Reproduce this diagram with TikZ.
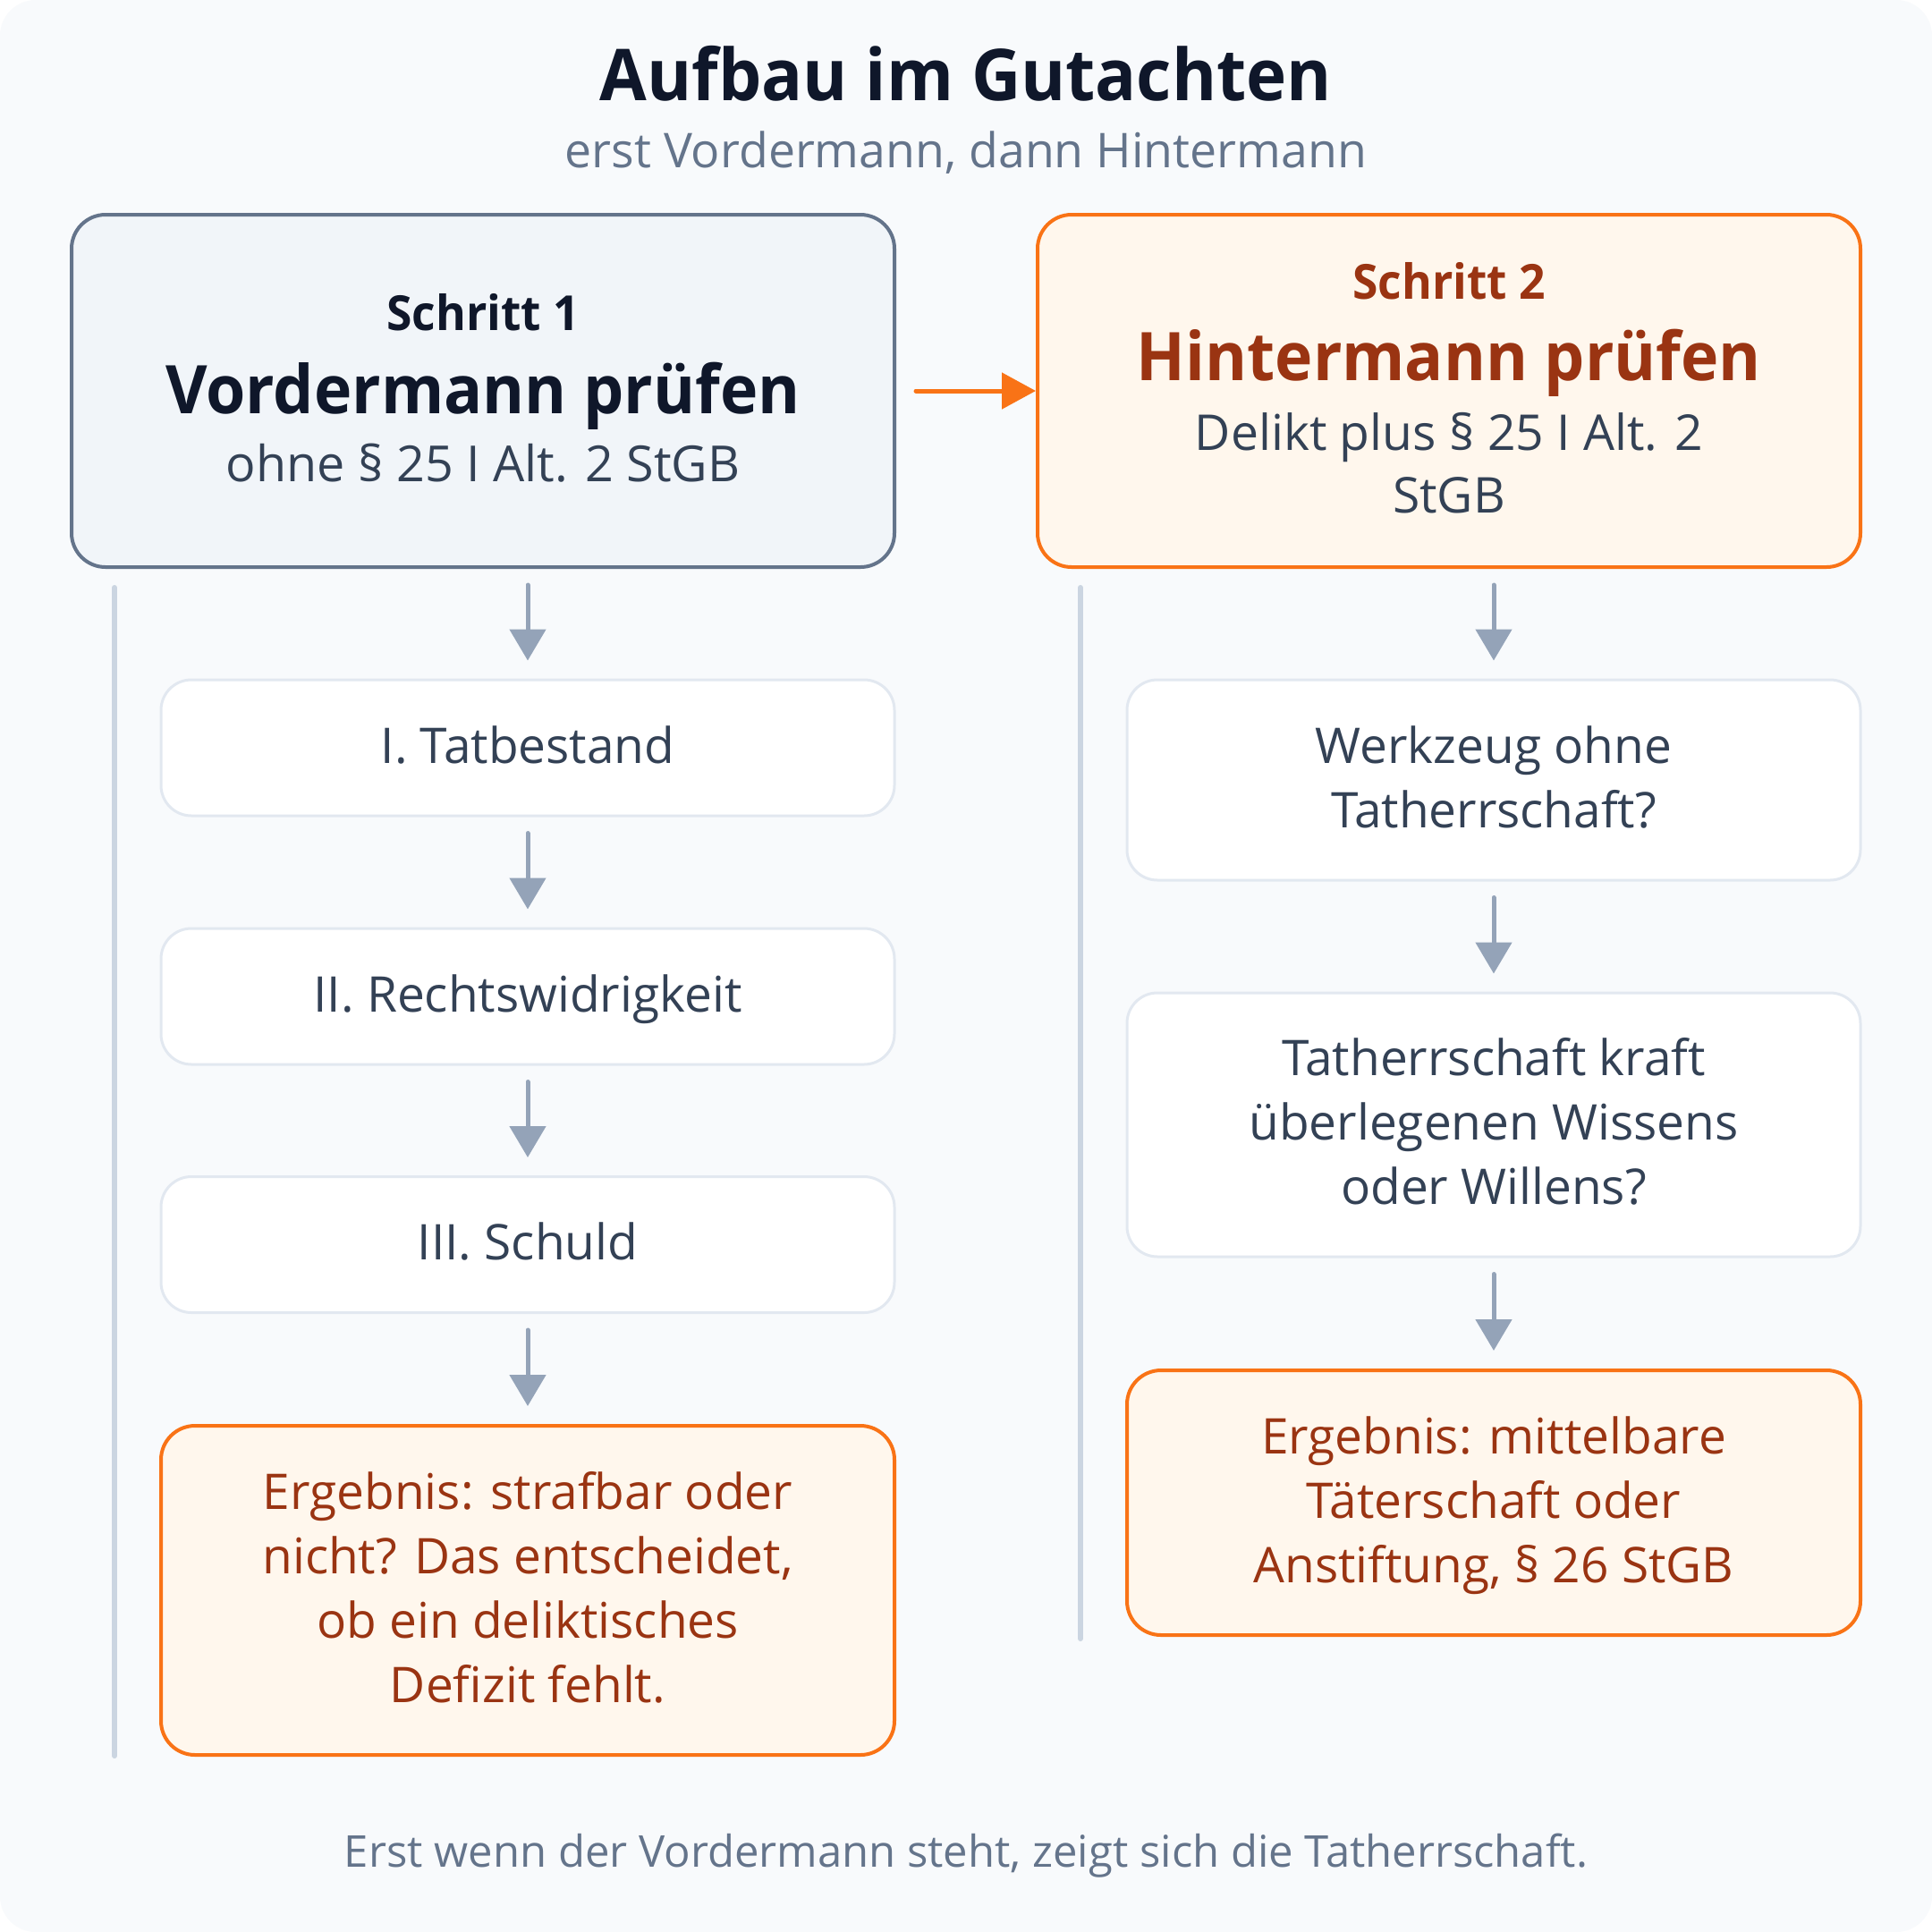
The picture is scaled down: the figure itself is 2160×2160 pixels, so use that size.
\documentclass[tikz,border=0pt]{standalone}
\usepackage{fontspec}
\setmainfont{Open Sans}[BoldFeatures={FakeStretch=0.955}]
\usetikzlibrary{arrows.meta,calc}
\definecolor{bgc}{HTML}{F8FAFC}
\definecolor{titlec}{HTML}{0F172A}
\definecolor{subc}{HTML}{64748B}
\definecolor{boxafill}{HTML}{F1F5F9}
\definecolor{orangec}{HTML}{F97316}
\definecolor{ofill}{HTML}{FFF7ED}
\definecolor{brownc}{HTML}{9A3412}
\definecolor{txtc}{HTML}{334155}
\definecolor{stepc}{HTML}{E2E8F0}
\definecolor{vlinec}{HTML}{CBD5E1}
\definecolor{arrc}{HTML}{94A3B8}
\newcommand\ls{\rule[-9.5pt]{0pt}{36pt}}
\begin{document}
\begin{tikzpicture}[x=0.5pt,y=-0.5pt,
  hdrA/.style={draw=subc, fill=boxafill, line width=2pt, rounded corners=19pt, minimum width=460pt, minimum height=197pt, inner sep=0pt},
  hdrB/.style={draw=orangec, fill=ofill, line width=2pt, rounded corners=19pt, minimum width=460pt, minimum height=197pt, inner sep=0pt},
  stepbox/.style={draw=stepc, fill=white, line width=1.5pt, rounded corners=17pt, minimum width=410pt, inner sep=0pt, align=center, text=txtc, font=\fontsize{27.5}{36}\selectfont},
  resbox/.style={draw=orangec, fill=ofill, line width=2pt, rounded corners=19pt, minimum width=410pt, inner sep=0pt, align=center, text=brownc, font=\fontsize{27.5}{36}\selectfont},
  hline/.style={anchor=base, inner sep=0pt},
  darrow/.style={draw=arrc, line width=2.5pt, line cap=round, -{Triangle[length=17.5pt, width=20pt]}},
  oarrow/.style={draw=orangec, line width=2.5pt, line cap=round, -{Triangle[length=19pt, width=20pt]}},
  vline/.style={draw=vlinec, line width=3pt, line cap=round}]
\path[use as bounding box] (0,0) rectangle (2160,2160);
\fill[white] (0,0) rectangle (2160,2160);
\fill[bgc, rounded corners=20pt] (0,0) rectangle (2160,2160);

\node[hline, font=\fontsize{40}{48}\selectfont\bfseries, text=titlec] (title) at (1080,112) {Aufbau im Gutachten};
\node[hline, font=\fontsize{26.8}{32}\selectfont, text=subc] (subtitle) at (1080,187) {erst Vordermann, dann Hintermann};

\node[hdrA] (b1) at (540,437) {};
\node[hline, font=\fontsize{27}{32}\selectfont\bfseries, text=titlec] (b1a) at ($(b1.center)+(0,-68)$) {Schritt 1};
\node[hline, font=\fontsize{37.5}{46}\selectfont\bfseries, text=titlec] (b1b) at ($(b1.center)+(0,25)$) {Vordermann prüfen};
\node[hline, font=\fontsize{27.8}{32}\selectfont, text=txtc] (b1c) at ($(b1.center)+(0,101)$) {ohne § 25 I Alt. 2 StGB};

\node[hdrB] (b2) at (1620,437) {};
\node[hline, font=\fontsize{27}{32}\selectfont\bfseries, text=brownc] (b2a) at ($(b2.center)+(0,-103)$) {Schritt 2};
\node[hline, font=\fontsize{37.5}{46}\selectfont\bfseries, text=brownc] (b2b) at ($(b2.center)+(0,-12)$) {Hintermann prüfen};
\node[hline, font=\fontsize{27.6}{32}\selectfont, text=txtc] (b2c) at ($(b2.center)+(0,66)$) {Delikt plus § 25 I Alt. 2};
\node[hline, font=\fontsize{27.6}{32}\selectfont, text=txtc] (b2d) at ($(b2.center)+(0,136)$) {StGB};

\draw[oarrow] ($(b1.east)+(22,0)$) -- (b2.west);

\coordinate (vl1a) at (128,657);
\coordinate (vl1b) at (128,1963);
\coordinate (vl2a) at (1208,657);
\coordinate (vl2b) at (1208,1832);
\draw[vline] (vl1a) -- (vl1b);
\draw[vline] (vl2a) -- (vl2b);

\node[stepbox, minimum height=76pt] (s1) at (590,836) {\ls I. Tatbestand};
\node[stepbox, minimum height=76pt] (s2) at (590,1114) {\ls II. Rechtswidrigkeit};
\node[stepbox, minimum height=76pt] (s3) at (590,1391.5) {\ls III. Schuld};
\node[resbox, minimum height=184pt] (r1) at (590,1778) {\ls Ergebnis: strafbar oder\\\ls nicht? Das entscheidet,\\\ls ob ein deliktisches\\\ls Defizit fehlt.};

\node[stepbox, minimum height=112pt] (t1) at (1670,872) {\ls Werkzeug ohne\\\ls Tatherrschaft?};
\node[stepbox, minimum height=147.5pt] (t2) at (1670,1257.5) {\ls Tatherrschaft kraft\\\ls überlegenen Wissens\\\ls oder Willens?};
\node[resbox, minimum height=148pt] (r2) at (1670,1680) {\ls Ergebnis: mittelbare\\\ls Täterschaft oder\\\ls Anstiftung, § 26 StGB};

\draw[darrow] ($(b1.south -| s1.north)+(0,18)$) -- ($(s1.north)+(0,-20)$);
\draw[darrow] ($(s1.south)+(0,18)$) -- ($(s2.north)+(0,-20)$);
\draw[darrow] ($(s2.south)+(0,18)$) -- ($(s3.north)+(0,-20)$);
\draw[darrow] ($(s3.south)+(0,18)$) -- ($(r1.north)+(0,-20)$);

\draw[darrow] ($(b2.south -| t1.north)+(0,18)$) -- ($(t1.north)+(0,-20)$);
\draw[darrow] ($(t1.south)+(0,18)$) -- ($(t2.north)+(0,-20)$);
\draw[darrow] ($(t2.south)+(0,18)$) -- ($(r2.north)+(0,-20)$);

\node[hline, font=\fontsize{24.5}{30}\selectfont, text=subc] (footer) at (1080,2087) {Erst wenn der Vordermann steht, zeigt sich die Tatherrschaft.};
\end{tikzpicture}
\end{document}
